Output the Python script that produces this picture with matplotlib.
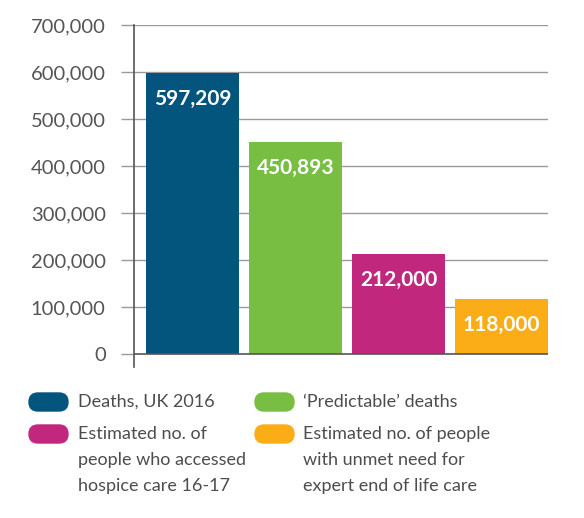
import matplotlib
matplotlib.use("Agg")
import matplotlib.pyplot as plt
from matplotlib.patches import FancyBboxPatch
from matplotlib.ticker import FuncFormatter

plt.rcParams['font.family'] = ['Lato', 'DejaVu Sans']

categories = ["Deaths, UK 2016", "\u2018Predictable\u2019 deaths",
              "Estimated no. of\npeople who accessed\nhospice care 16-17",
              "Estimated no. of people\nwith unmet need for\nexpert end of life care"]
values = [597209, 450893, 212000, 118000]
colors = ["#03557e", "#78be43", "#c1277c", "#fbad18"]
yticks = [0, 100000, 200000, 300000, 400000, 500000, 600000, 700000]

W, H = 584, 518
fig = plt.figure(figsize=(W / 100, H / 100), dpi=100)
ax = fig.add_axes([134 / W, (H - 367) / H, 414 / W, 342 / H])

x = list(range(len(values)))
ax.bar(x, values, width=0.9, color=colors, zorder=3)
ax.set_xlim(-0.568, 3.451)
ax.set_ylim(-27660, 700000)

for xi, v in zip(x, values):
    ax.text(xi, v - 26 * 100000 / 47, f"{v:,}", ha="center", va="center",
            color="white", fontsize=15, fontweight="bold", zorder=4)

ax.set_yticks(yticks)
ax.yaxis.set_major_formatter(FuncFormatter(lambda v, p: f"{int(v):,}"))
ax.tick_params(axis="y", length=9.4, width=1, color="#9a9a9a", pad=11,
               labelsize=14.5, labelcolor="#555555")
ax.tick_params(axis="x", bottom=False, labelbottom=False)
for t in yticks[1:]:
    ax.axhline(t, color="#9a9a9a", lw=1, zorder=1)
ax.axhline(0, color="#555555", lw=1.2, zorder=5)
ax.yaxis.get_major_ticks()[0].tick1line.set_color("#555555")

for s in ["top", "right", "bottom"]:
    ax.spines[s].set_visible(False)
ax.spines["left"].set_color("#555555")
ax.spines["left"].set_linewidth(1.2)
ax.spines["left"].set_bounds(-27660, 700000)

# legend
pill_pos = [(29, 393), (255, 393), (29, 425), (255, 425)]
text_x = [78, 303, 78, 303]
for (px, py), tx, lab, c in zip(pill_pos, text_x, categories, colors):
    pw, ph = 39, 18
    patch = FancyBboxPatch((px / W, 1 - (py + ph) / H), pw / W, ph / H,
                           boxstyle=f"round,pad=0,rounding_size={9 / W}",
                           transform=fig.transFigure, color=c,
                           mutation_aspect=W / H)
    fig.patches.append(patch)
    fig.text(tx / W, 1 - (py + 1) / H, lab, ha="left", va="top",
             fontsize=13, color="#4d4d4d", linespacing=1.75)

fig.savefig("out.png", dpi=100)
